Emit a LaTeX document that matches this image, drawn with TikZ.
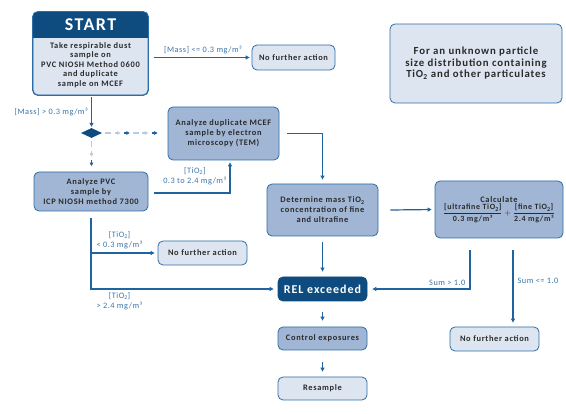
\documentclass[tikz,border=0pt]{standalone}
\usepackage{fontspec}
\setmainfont{Carlito}
\newfontfamily\boxfont[LetterSpace=8]{Carlito}
\newfontfamily\labelfont[LetterSpace=6]{Carlito}
\usetikzlibrary{positioning}
\usetikzlibrary{shapes.geometric}
\usetikzlibrary{arrows.meta}
\definecolor{navy}{HTML}{0E4C80}
\definecolor{edge}{HTML}{2D6DA5}
\definecolor{mid}{HTML}{A0B6D4}
\definecolor{pale}{HTML}{DDE5F0}
\definecolor{ink}{HTML}{2B2B2B}
\definecolor{wire}{HTML}{1F63A0}
\definecolor{faint}{HTML}{B9CBE0}
\definecolor{tag}{HTML}{3A74A8}
\begin{document}
\begin{tikzpicture}[x = 1pt, y = -1pt,
	box/.style = {draw = edge, line width = 0.8pt, rounded corners = 5pt, align = center, text = ink, inner sep = 2pt, font = \boxfont\bfseries\fontsize{8.4}{10}\selectfont},
	lightbox/.style = {box, fill = pale},
	midbox/.style = {box, fill = mid},
	darkbox/.style = {box, fill = navy, draw = navy, text = white},
	flow/.style = {draw = wire, line width = 1.2pt, -{Triangle[length = 4pt, width = 4pt]}},
	tipped/.style = {-{Triangle[length = 3.5pt, width = 3.5pt]}},
	plain/.style = {},
	cond/.style = {text = tag, align = center, inner sep = 1pt, font = \labelfont\fontsize{8.3}{10}\selectfont}]
	\useasboundingbox (0, 0) rectangle (566, 414);
	\node[lightbox, minimum width = 115pt, minimum height = 83pt] (take) at (90.5, 53.5) {};
	\begin{scope}
		\clip[rounded corners = 5pt] (take.north west) rectangle (take.south east);
		\fill[navy] (take.north west) rectangle ([yshift = -26pt]take.north east);
	\end{scope}
	\draw[edge, line width = 0.8pt, rounded corners = 5pt] (take.north west) rectangle (take.south east);
	\node[text = white, font = \boxfont\bfseries\fontsize{18}{18}\selectfont] (start) at (90.5, 25) {START};
	\node[text = ink, align = center, font = \boxfont\bfseries\fontsize{8.4}{9.5}\selectfont] (taketext) at (90.5, 65) {Take respirable dust\\sample on\\PVC NIOSH Method 0600\\and duplicate\\sample on MCEF};
	\node[lightbox, minimum width = 83pt, minimum height = 25pt] (nfa1) at (293.5, 57.5) {No further action};
	\node[lightbox, minimum width = 172pt, minimum height = 79pt, font = \boxfont\bfseries\fontsize{10.8}{11.5}\selectfont] (note) at (476, 63.5) {For an unknown particle\\size distribution containing\\TiO\textsubscript{2} and other particulates};
	\node[diamond, fill = navy, inner sep = 0pt, aspect = 2, minimum width = 21pt, minimum height = 10pt] (dia) at (91.5, 133) {};
	\node[midbox, minimum width = 111pt, minimum height = 53pt] (mcef) at (223.5, 133.5) {Analyze duplicate MCEF\\sample by electron\\microscopy (TEM)};
	\node[midbox, minimum width = 114pt, minimum height = 39pt] (pvc) at (91, 191.5) {Analyze PVC\\sample by\\ICP NIOSH method 7300};
	\node[midbox, minimum width = 111pt, minimum height = 52pt] (det) at (322.5, 210) {Determine mass TiO\textsubscript{2}\\concentration of fine\\and ultrafine};
	\node[midbox, minimum width = 128pt, minimum height = 57pt] (calc) at (499, 209.5) {Calculate\\[1pt] \fontsize{8}{9}\selectfont$\displaystyle\frac{\mbox{[ultrafine TiO\textsubscript{2}]}}{\mbox{0.3 mg/m³}} + \frac{\mbox{[fine TiO\textsubscript{2}]}}{\mbox{2.4 mg/m³}}$};
	\node[lightbox, minimum width = 89pt, minimum height = 24pt] (nfa2) at (202.5, 253) {No further action};
	\node[darkbox, minimum width = 89pt, minimum height = 24pt, font = \boxfont\bfseries\fontsize{12}{13}\selectfont] (rel) at (322.5, 289) {REL exceeded};
	\node[midbox, minimum width = 89pt, minimum height = 23pt] (ctrl) at (322.5, 338.5) {Control exposures};
	\node[lightbox, minimum width = 89pt, minimum height = 23pt] (resample) at (322.5, 388.5) {Resample};
	\node[lightbox, minimum width = 89pt, minimum height = 24pt] (nfa3) at (494.5, 339) {No further action};

	\draw[flow, shorten > = 2pt] ([xshift = 6pt]take.east |- nfa1) -- (nfa1.west) node[cond, above, midway, yshift = 2pt] {[Mass] <= 0.3 mg/m³};
	\draw[flow, shorten < = 2pt, shorten > = 1pt] (take.south -| dia) -- (dia.north) node[cond, left, midway, xshift = -2pt] {[Mass] > 0.3 mg/m³};
	\foreach \i/\c/\tip in {0/faint/plain, 1/faint/tipped, 2/wire/tipped, 3/faint/plain, 4/faint/tipped, 5/wire/tipped}
		\draw[\c, line width = 1.2pt, \tip] ([xshift = {3 + \i * 9.3}]dia.east) -- ++(6, 0);
	\foreach \i/\c/\tip in {0/faint/plain, 1/faint/tipped, 2/wire/tipped}
		\draw[\c, line width = 1.2pt, \tip] ([yshift = {-3 - \i * 9.5}]dia.south) -- ++(0, 6);
	\draw[flow, shorten > = 2pt] ([xshift = 6pt, yshift = -1.5pt]pvc.east) -| ([xshift = 6.5pt]mcef.south) node[cond, left, pos = 0.75, xshift = -2pt] {[TiO\textsubscript{2}]\\0.3 to 2.4 mg/m³};
	\draw[flow, shorten > = 4pt] ([xshift = 8pt]mcef.east) -| (det.north);
	\draw[flow, shorten > = 3pt] ([xshift = 12pt]det.east) -- (calc.west);
	\coordinate (sumgt) at ([xshift = -29pt, yshift = -12pt]calc.south);
	\coordinate (sumle) at ([xshift = 14pt, yshift = -12pt]calc.south);
	\draw[flow, shorten > = 5pt] (sumgt) |- (rel.east) node[cond, above left, pos = 0.5, xshift = -3pt, yshift = 2pt] {Sum > 1.0};
	\draw[flow, shorten > = 4pt] (sumle) -- (sumle |- nfa3.north) node[cond, right, pos = 0.4, xshift = 3pt] {Sum <= 1.0};
	\draw[flow, shorten < = 6pt, shorten > = 5pt] (det.south) -- (rel.north);
	\draw[flow, shorten < = 11pt, shorten > = 6pt] (rel.south) -- (ctrl.north);
	\draw[flow, shorten < = 12pt, shorten > = 5pt] (ctrl.south) -- (resample.north);
	\draw[flow, shorten < = 7pt, shorten > = 4pt] (pvc.south) |- (rel.west) node[cond, below right, pos = 0.5, xshift = 4pt, yshift = -2pt] {[TiO\textsubscript{2}]\\> 2.4 mg/m³};
	\draw[flow, shorten > = 3pt] (pvc.south |- nfa2) -- (nfa2.west) node[cond, above right, pos = 0, xshift = 4pt, yshift = 2pt] {[TiO\textsubscript{2}]\\< 0.3 mg/m³};
\end{tikzpicture}
\end{document}
